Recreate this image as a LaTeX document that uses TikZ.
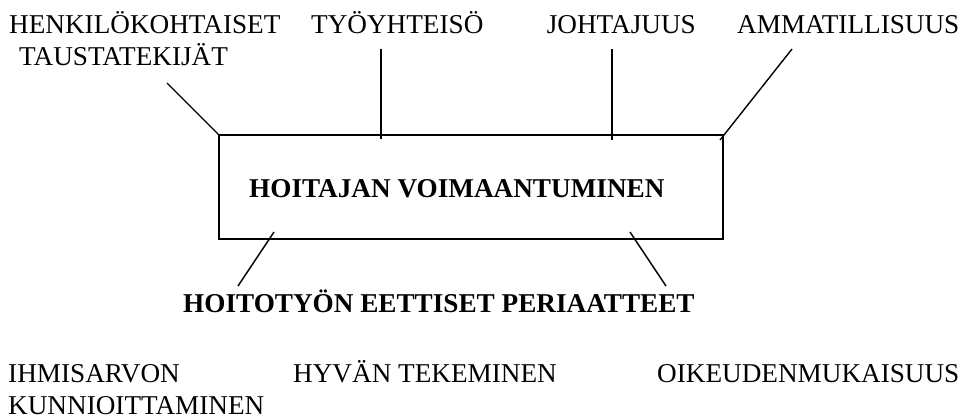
\documentclass[tikz,border=0pt]{standalone}
\usepackage{fontspec}
\setmainfont{Liberation Serif}
\begin{document}
\begin{tikzpicture}[x=1pt,y=-1pt,
  lbl/.style={inner sep=0pt,anchor=base west,font=\fontsize{27.2}{32}\selectfont},
  blbl/.style={lbl,font=\fontsize{27.2}{32}\selectfont\bfseries},
  frame/.style={draw=black,line width=2.2pt,inner sep=0pt},
  conn/.style={draw=black,line width=1.4pt}]
\useasboundingbox (0,0) rectangle (969,418);
% top labels
\node[lbl] (henk) at (9,33) {HENKILÖKOHTAISET};
\node[lbl] (taus) at (19,65) {TAUSTATEKIJÄT};
\node[lbl] (tyo) at (311,33) {TYÖYHTEISÖ};
\node[lbl,anchor=base east] (joht) at (696,33) {JOHTAJUUS};
\node[lbl] (amma) at (737,33) {AMMATILLISUUS};
% central box
\node[frame,minimum width=504pt,minimum height=104pt] (box) at (471,187) {};
\node[blbl] (title) at (249,197) {HOITAJAN VOIMAANTUMINEN};
% ethics
\node[blbl] (eth) at (183,312) {HOITOTYÖN EETTISET PERIAATTEET};
\node[lbl] (ihmi) at (8,382) {IHMISARVON};
\node[lbl] (kunn) at (8,414) {KUNNIOITTAMINEN};
\node[lbl] (hyva) at (293,382) {HYVÄN TEKEMINEN};
\node[lbl] (oike) at (657,382) {OIKEUDENMUKAISUUS};
% connector ends
\coordinate (a1) at (167,83);  \coordinate (a2) at (219,135);
\coordinate (b1) at (381,49);  \coordinate (b2) at (381,139);
\coordinate (c1) at (612,49);  \coordinate (c2) at (612,140);
\coordinate (d1) at (792,49);  \coordinate (d2) at (720,140);
\coordinate (e1) at (274,232); \coordinate (e2) at (238,286);
\coordinate (f1) at (630,232); \coordinate (f2) at (666,286);
\draw[conn] (a1) -- (a2);
\draw[conn] (b1) -- (b2);
\draw[conn] (c1) -- (c2);
\draw[conn] (d1) -- (d2);
\draw[conn] (e1) -- (e2);
\draw[conn] (f1) -- (f2);
\end{tikzpicture}
\end{document}
